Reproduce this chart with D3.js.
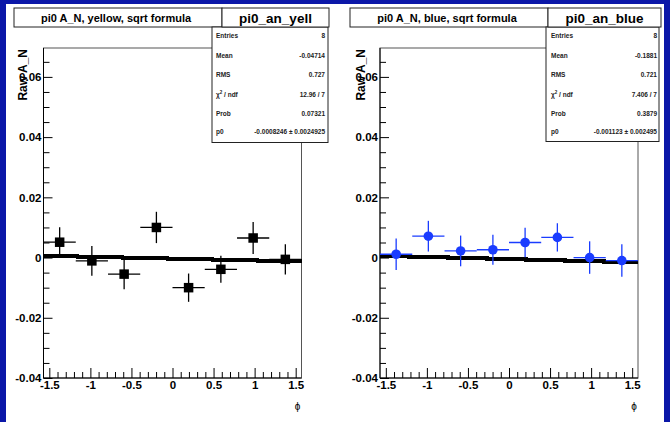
<!DOCTYPE html>
<html>
<head>
<meta charset="utf-8">
<script src="https://cdn.jsdelivr.net/npm/d3@7"></script>
<style>
  html, body { margin: 0; padding: 0; background: #ffffff; }
  svg { display: block; }
  text { font-family: "Liberation Sans", Arial, Helvetica, sans-serif; }
</style>
</head>
<body>
<svg id="canvas" width="670" height="422"></svg>
<script>
// Bin centres in phi (8 bins over -pi/2 .. pi/2) and half bin width
const phiBins = [-1.374, -0.982, -0.589, -0.196, 0.196, 0.589, 0.982, 1.374];
const binHalfWidth = 0.196;

// Raw A_N per phi bin, yellow beam
const yellowValues = [0.0051, -0.0011, -0.0055, 0.0100, -0.0100, -0.0039, 0.0065, -0.0006];
const yellowErrors = [0.0050, 0.0049, 0.0050, 0.0052, 0.0047, 0.0045, 0.0053, 0.0050];
// Raw A_N per phi bin, blue beam
const blueValues = [0.0011, 0.0071, 0.0022, 0.0026, 0.0050, 0.0067, 0.0000, -0.0010];
const blueErrors = [0.0052, 0.0051, 0.0051, 0.0050, 0.0049, 0.0047, 0.0054, 0.0054];

// Fitted curve end values (at phi = -pi/2 and +pi/2)
const yellowFit = [0.0006, -0.0013];
const blueFit = [0.0006, -0.0016];

// Axis ticks
const xMajorTicks = [-1.5, -1, -0.5, 0, 0.5, 1, 1.5];
const xTickLabels = ["-1.5", "-1", "-0.5", "0", "0.5", "1", "1.5"];
const yMajorTicks = [-0.04, -0.02, 0, 0.02, 0.04, 0.06];
const yTickLabels = ["-0.04", "-0.02", "0", "0.02", "0.04", "0.06"];

// Stats box contents
const yellowStats = [
  ["Entries", "8"], ["Mean", "-0.04714"], ["RMS", "0.727"],
  ["chi", "12.96 / 7"], ["Prob", "0.07321"], ["p0", "-0.0008246 \u00b1 0.0024925"]
];
const blueStats = [
  ["Entries", "8"], ["Mean", "-0.1881"], ["RMS", "0.721"],
  ["chi", "7.406 / 7"], ["Prob", "0.3879"], ["p0", "-0.001123 \u00b1 0.002495"]
];

const svg = d3.select("#canvas");
const canvasBlue = "#0b17a8";

// canvas border
svg.append("rect").attr("x", 0).attr("y", 0).attr("width", 670).attr("height", 422).attr("fill", canvasBlue);
svg.append("rect").attr("x", 6).attr("y", 4).attr("width", 658).attr("height", 418).attr("fill", "#ffffff");

const phiDomain = [-Math.PI / 2, Math.PI / 2];
const yDomain = [-0.04, 0.0696];

const panels = [
  {
    frame: { x0: 43.5, x1: 301.5, y0: 48, y1: 378 },
    title: "pi0 A_N, yellow, sqrt formula", titleBox: [14, 222],
    name: "pi0_an_yell", nameBox: [222, 329],
    statsBox: [212, 328, 27, 142.5], statsLabelX: 216, statsValueX: 325,
    yTitleX: 23,
    values: yellowValues, errors: yellowErrors, fit: yellowFit, stats: yellowStats,
    color: "#000000", marker: "square"
  },
  {
    frame: { x0: 380, x1: 638, y0: 48, y1: 378 },
    title: "pi0 A_N, blue, sqrt formula", titleBox: [350, 548],
    name: "pi0_an_blue", nameBox: [548, 661],
    statsBox: [546, 659, 27, 141.5], statsLabelX: 551, statsValueX: 657,
    yTitleX: 361,
    values: blueValues, errors: blueErrors, fit: blueFit, stats: blueStats,
    color: "#1a3cff", marker: "circle"
  }
];

panels.forEach(p => {
  const f = p.frame;
  const x = d3.scaleLinear().domain(phiDomain).range([f.x0, f.x1]);
  const y = d3.scaleLinear().domain(yDomain).range([f.y1, f.y0]);
  const g = svg.append("g");

  // frame
  g.append("rect").attr("x", f.x0).attr("y", f.y0)
    .attr("width", f.x1 - f.x0).attr("height", f.y1 - f.y0)
    .attr("fill", "none").attr("stroke", "#555").attr("stroke-width", 1);

  // y axis: major ticks pointing inward, minor ticks every 0.005
  const yMinor = d3.range(-0.04, 0.0696, 0.005).filter(v => !yMajorTicks.some(t => Math.abs(t - v) < 1e-9));
  const yAxisMajor = d3.axisLeft(y).tickValues(yMajorTicks)
    .tickFormat((d, i) => yTickLabels[i]).tickSizeInner(-9).tickSizeOuter(0).tickPadding(2);
  const yAxisMinor = d3.axisLeft(y).tickValues(yMinor).tickFormat("").tickSizeInner(-6).tickSizeOuter(0);
  const ya = g.append("g").attr("transform", `translate(${f.x0},0)`).call(yAxisMajor);
  g.append("g").attr("transform", `translate(${f.x0},0)`).call(yAxisMinor).select(".domain").remove();
  ya.select(".domain").attr("stroke", "#000").attr("d", `M0,${f.y1}V${f.y0}`);
  ya.selectAll("line").attr("stroke", "#000");
  ya.selectAll("text").attr("font-size", 11.5).attr("font-weight", "bold").attr("fill", "#000")
    .attr("font-family", "'Liberation Sans', Arial, sans-serif");

  // x axis: major ticks every 0.5, minor every 0.1
  const xMinor = d3.range(-15, 16, 1).map(v => v / 10).filter(v => !xMajorTicks.some(t => Math.abs(t - v) < 1e-9));
  const xAxisMajor = d3.axisBottom(x).tickValues(xMajorTicks)
    .tickFormat((d, i) => xTickLabels[i]).tickSizeInner(-10).tickSizeOuter(0).tickPadding(4);
  const xAxisMinor = d3.axisBottom(x).tickValues(xMinor).tickFormat("").tickSizeInner(-6).tickSizeOuter(0);
  const xa = g.append("g").attr("transform", `translate(0,${f.y1})`).call(xAxisMajor);
  g.append("g").attr("transform", `translate(0,${f.y1})`).call(xAxisMinor).select(".domain").remove();
  xa.select(".domain").attr("stroke", "#000").attr("d", `M${f.x0},0H${f.x1}`);
  xa.selectAll("line").attr("stroke", "#000");
  xa.selectAll("text").attr("font-size", 11.5).attr("font-weight", "bold").attr("fill", "#000")
    .attr("y", 3).attr("dy", "0.71em")
    .attr("font-family", "'Liberation Sans', Arial, sans-serif");
  g.selectAll(".tick line").attr("stroke", "#000");

  // axis titles
  g.append("text").attr("x", f.x1 - 4).attr("y", 410).attr("text-anchor", "middle")
    .attr("font-size", 10).attr("fill", "#000")
    .attr("font-family", "'DejaVu Sans', sans-serif").text("\u03d5");
  g.append("text")
    .attr("transform", `translate(${p.yTitleX + 4},${f.y0 + 1}) rotate(-90)`)
    .attr("text-anchor", "end").attr("font-size", 12).attr("font-weight", "bold").attr("fill", "#000")
    .text("Raw A_N");

  // fitted function, rendered pixel by pixel
  const fitVal = phi => p.fit[0] + (p.fit[1] - p.fit[0]) * (phi - phiDomain[0]) / (phiDomain[1] - phiDomain[0]);
  const fitPts = d3.range(f.x0, f.x1 + 1, 1).map(px => [px, Math.round(y(fitVal(x.invert(px))))]);
  g.append("path").datum(fitPts)
    .attr("d", d3.line().curve(d3.curveStepAfter))
    .attr("fill", "none").attr("stroke", "#000").attr("stroke-width", 3.5)
    .attr("shape-rendering", "crispEdges");

  // data points with error bars
  const pts = phiBins.map((phi, i) => ({ phi, v: p.values[i], e: p.errors[i] }));
  const dg = g.append("g");
  dg.selectAll("line.h").data(pts).join("line").attr("class", "h")
    .attr("x1", d => x(d.phi - binHalfWidth)).attr("x2", d => x(d.phi + binHalfWidth))
    .attr("y1", d => y(d.v)).attr("y2", d => y(d.v))
    .attr("stroke", p.color).attr("stroke-width", 1.3);
  dg.selectAll("line.v").data(pts).join("line").attr("class", "v")
    .attr("x1", d => x(d.phi)).attr("x2", d => x(d.phi))
    .attr("y1", d => y(d.v - d.e)).attr("y2", d => y(d.v + d.e))
    .attr("stroke", p.color).attr("stroke-width", 1.3);
  if (p.marker === "square") {
    dg.selectAll("rect.m").data(pts).join("rect").attr("class", "m")
      .attr("x", d => x(d.phi) - 4.75).attr("y", d => y(d.v) - 4.75)
      .attr("width", 9.5).attr("height", 9.5).attr("fill", p.color);
  } else {
    dg.selectAll("circle.m").data(pts).join("circle").attr("class", "m")
      .attr("cx", d => x(d.phi)).attr("cy", d => y(d.v)).attr("r", 4.8).attr("fill", p.color);
  }

  // title box
  g.append("rect").attr("x", p.titleBox[0]).attr("y", 8)
    .attr("width", p.titleBox[1] - p.titleBox[0]).attr("height", 19)
    .attr("fill", "#fff").attr("stroke", "#222").attr("stroke-width", 1);
  g.append("text").attr("x", (p.titleBox[0] + p.titleBox[1]) / 2 - 2).attr("y", 22)
    .attr("text-anchor", "middle").attr("font-size", 11).attr("font-weight", "bold").attr("fill", "#000")
    .text(p.title);

  // stats box
  const sb = p.statsBox;
  g.append("rect").attr("x", sb[0]).attr("y", sb[2]).attr("width", sb[1] - sb[0]).attr("height", sb[3] - sb[2])
    .attr("fill", "#fff").attr("stroke", "#222").attr("stroke-width", 1);
  g.append("rect").attr("x", p.nameBox[0]).attr("y", 8)
    .attr("width", p.nameBox[1] - p.nameBox[0]).attr("height", 19)
    .attr("fill", "#fff").attr("stroke", "#222").attr("stroke-width", 1);
  g.append("text").attr("x", (p.nameBox[0] + p.nameBox[1]) / 2).attr("y", 22.5)
    .attr("text-anchor", "middle").attr("font-size", 13.5).attr("font-weight", "bold").attr("fill", "#000")
    .text(p.name);

  const rowY = [37.5, 58, 77, 96.5, 116, 133.5];
  p.stats.forEach((row, i) => {
    const lt = g.append("text").attr("x", p.statsLabelX).attr("y", rowY[i])
      .attr("font-size", 6.5).attr("font-weight", "bold").attr("fill", "#222");
    if (row[0] === "chi") {
      lt.append("tspan").text("\u03c7");
      lt.append("tspan").attr("dy", -3).attr("font-size", 4.5).text("2");
      lt.append("tspan").attr("dy", 3).text(" / ndf");
    } else {
      lt.text(row[0]);
    }
    g.append("text").attr("x", p.statsValueX).attr("y", rowY[i]).attr("text-anchor", "end")
      .attr("font-size", 6.5).attr("font-weight", "bold").attr("fill", "#222").text(row[1]);
  });
});
</script>
</body>
</html>
